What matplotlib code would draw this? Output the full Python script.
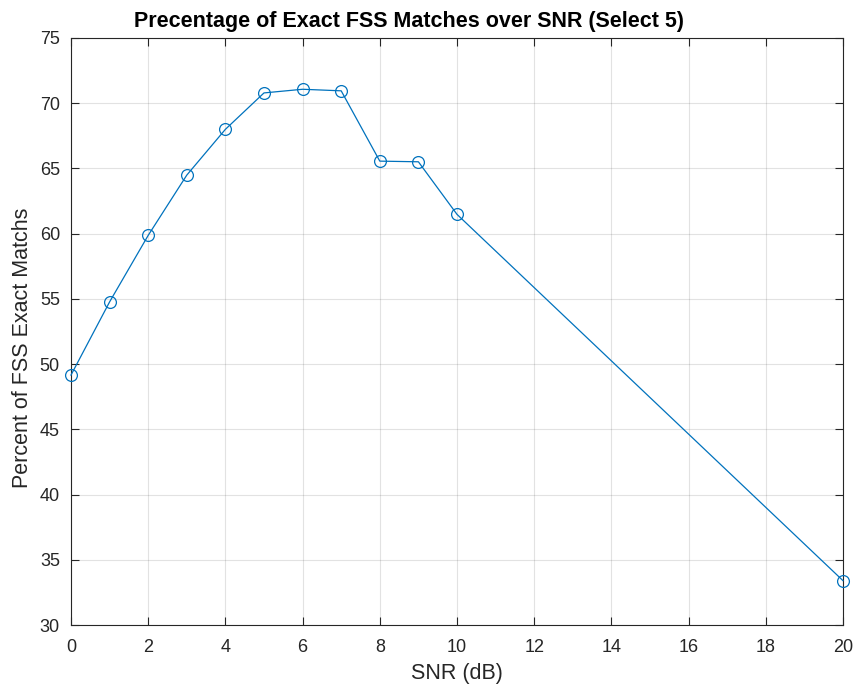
import matplotlib
matplotlib.use("Agg")
import matplotlib.pyplot as plt

snr = [0, 1, 2, 3, 4, 5, 6, 7, 8, 9, 10, 20]
pct = [49.16, 54.77, 59.87, 64.49, 68.0, 70.79, 71.07, 70.95, 65.56, 65.51, 61.48, 33.4]
xticks = [0, 2, 4, 6, 8, 10, 12, 14, 16, 18, 20]
yticks = [30, 35, 40, 45, 50, 55, 60, 65, 70, 75]

plt.rcParams['font.family'] = ['Liberation Sans', 'DejaVu Sans']
fig = plt.figure(figsize=(8.55, 6.86), dpi=100)
ax = fig.add_axes([71/855, 1-625/686, (843-71)/855, (625-38)/686])
ax.plot(snr, pct, color='#0072BD', lw=0.9, marker='o', markersize=8.5,
        markerfacecolor='none', markeredgewidth=0.9, clip_on=False, zorder=3)
ax.set_xlim(0, 20)
ax.set_ylim(30, 75)
ax.set_xticks(xticks)
ax.set_yticks(yticks)
ax.grid(True, color='#262626', alpha=0.13, lw=0.8)
ax.set_axisbelow(True)
for s in ax.spines.values():
    s.set_color('#262626')
    s.set_linewidth(0.8)
ax.tick_params(direction='in', length=5.5, width=0.8, colors='#262626', labelsize=13,
               top=True, right=True, labeltop=False, labelright=False)
ax.tick_params(axis='x', pad=10)
ax.tick_params(axis='y', pad=8)
ax.set_xlabel('SNR (dB)', fontsize=15.5, color='#262626')
ax.set_ylabel('Percent of FSS Exact Matchs', fontsize=15.5, color='#262626')
ax.xaxis.set_label_coords(0.5, -0.0647)
ax.yaxis.set_label_coords(-0.049, 0.472)
ax.text(0.438, 1.0187, 'Precentage of Exact FSS Matches over SNR (Select 5)',
        transform=ax.transAxes, ha='center', va='baseline', fontsize=15.5,
        fontweight='bold', color='black')
fig.savefig('out.png', dpi=100)
